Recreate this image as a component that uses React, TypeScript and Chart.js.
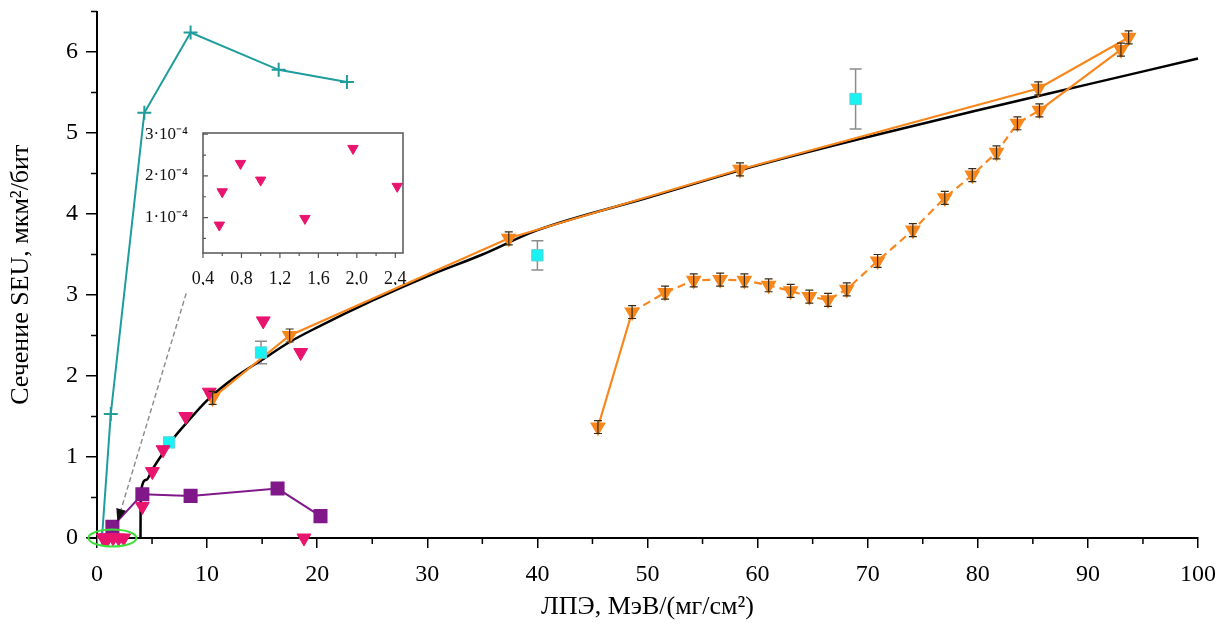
import React, { useEffect, useRef } from 'react';
import { Chart, registerables } from 'chart.js';

Chart.register(...registerables);

// ---------- data ----------
const fitX = [3.95, 3.97, 4.5, 5, 6, 7, 8, 10, 12.5, 15, 17.5, 20, 25, 30, 35, 40, 50, 60, 70, 80, 90, 100];
const fitY = [0, 0.55, 0.72, 0.84, 1.05, 1.24, 1.4, 1.7, 1.98, 2.2, 2.42, 2.6, 2.93, 3.23, 3.5, 3.8, 4.2, 4.6, 4.95, 5.28, 5.6, 5.92];

const tealX = [0.45, 1.25, 4.3, 8.5, 16.5, 22.7];
const tealY = [0, 1.53, 5.25, 6.24, 5.78, 5.63];

const purpleX = [1.4, 4.12, 8.5, 16.4, 20.3];
const purpleY = [0.14, 0.54, 0.52, 0.61, 0.27];

const pinkX = [0.57, 0.6, 0.79, 1.0, 1.46, 1.96, 2.42, 4.12, 5.03, 6.0, 8.06, 10.2, 15.1, 18.5, 18.8];
const pinkY = [0.0001, 0.00016, 0.00023, 0.00019, 0.0001, 0.00027, 0.00018, 0.39, 0.82, 1.09, 1.5, 1.8, 2.68, 2.29, 0];

const cyanX = [6.55, 14.9, 40.0, 68.9];
const cyanY = [1.18, 2.29, 3.49, 5.42];
const cyanErr = [0, 0.14, 0.18, 0.37];

const orangeAX = [10.5, 17.5, 37.4, 58.4, 85.5, 93.7];
const orangeAY = [1.73, 2.5, 3.7, 4.55, 5.55, 6.18];
const orangeAErr = [0.08, 0.08, 0.08, 0.08, 0.08, 0.08];

const orangeBX = [45.5, 48.6, 51.6, 54.2, 56.6, 58.8, 61.0, 63.0, 64.7, 66.4, 68.1, 70.9, 74.1, 77.0, 79.5, 81.7, 83.6, 85.6, 93.0];
const orangeBY = [1.37, 2.79, 3.03, 3.18, 3.19, 3.18, 3.12, 3.05, 2.98, 2.94, 3.07, 3.42, 3.8, 4.2, 4.48, 4.76, 5.12, 5.28, 6.03];
const orangeBErr = [0.08, 0.08, 0.08, 0.08, 0.08, 0.08, 0.08, 0.08, 0.08, 0.08, 0.08, 0.08, 0.08, 0.08, 0.08, 0.08, 0.08, 0.08, 0.08];

const insetX = [0.57, 0.6, 0.79, 1.0, 1.46, 1.96, 2.42];
const insetY = [0.82e-4, 1.62e-4, 2.3e-4, 1.9e-4, 0.98e-4, 2.66e-4, 1.75e-4];

const xTicks = [0, 10, 20, 30, 40, 50, 60, 70, 80, 90, 100];
const xMinor = [5, 15, 25, 35, 45, 55, 65, 75, 85, 95];
const yTicks = [0, 1, 2, 3, 4, 5, 6];
const yMinor = [0.5, 1.5, 2.5, 3.5, 4.5, 5.5, 6.5];
const insetXTicks = [0.4, 0.8, 1.2, 1.6, 2.0, 2.4];
const insetXMinor = [0.6, 1.0, 1.4, 1.8, 2.2];
const insetYTicks = [1e-4, 2e-4, 3e-4];
const insetYMinor = [0.5e-4, 1.5e-4, 2.5e-4];

// annotation anchors (data coords)
const arrowFrom = { x: 8.1, y: 3.02 };
const arrowTo = { x: 1.85, y: 0.2 };
const ellipseCenter = { x: 1.4, y: 0.0 };

const xTitle = 'ЛПЭ, МэВ/(мг/см²)';
const yTitle = 'Сечение SEU, мкм²/бит';

// ---------- styles ----------
const FONT = "'Liberation Serif', 'Times New Roman', serif";
const TEAL = '#1f9c9c';
const PURPLE = '#80188a';
const PINK = '#e8146e';
const CYAN = '#19f2f2';
const ORANGE = '#f7871c';

Chart.defaults.font.family = FONT;
Chart.defaults.color = '#000';

const pts = (xs: number[], ys: number[]) => xs.map((x, i) => ({ x, y: ys[i] }));

const drawErr = (chart: any, under: boolean) => {
  const ctx = chart.ctx;
  const xs = chart.scales.x;
  const ys = chart.scales.y;
  chart.data.datasets.forEach((ds: any) => {
    const eb = ds.errBars;
    if (!eb || eb.under !== under) return;
    ds.data.forEach((p: any, i: number) => {
      const e = eb.vals[i];
      if (!e) return;
      const px = xs.getPixelForValue(p.x);
      const top = ys.getPixelForValue(p.y + e);
      const bot = ys.getPixelForValue(p.y - e);
      ctx.save();
      ctx.strokeStyle = eb.color;
      ctx.lineWidth = eb.width;
      ctx.beginPath();
      ctx.moveTo(px, top);
      ctx.lineTo(px, bot);
      ctx.moveTo(px - eb.cap, top);
      ctx.lineTo(px + eb.cap, top);
      ctx.moveTo(px - eb.cap, bot);
      ctx.lineTo(px + eb.cap, bot);
      ctx.stroke();
      ctx.restore();
    });
  });
};

const errorBarPlugin = {
  id: 'errbars',
  beforeDatasetsDraw(chart: any) {
    drawErr(chart, true);
  },
  afterDatasetsDraw(chart: any) {
    drawErr(chart, false);
  },
};

const mainDecorPlugin = {
  id: 'maindecor',
  afterDraw(chart: any) {
    const ctx = chart.ctx;
    const xs = chart.scales.x;
    const ys = chart.scales.y;
    const a = chart.chartArea;
    ctx.save();
    // minor ticks + small axis overhang
    ctx.strokeStyle = '#000';
    ctx.lineWidth = 1.5;
    ctx.beginPath();
    xMinor.forEach((v) => {
      const px = xs.getPixelForValue(v);
      ctx.moveTo(px, a.bottom);
      ctx.lineTo(px, a.bottom + 6);
    });
    yMinor.forEach((v) => {
      const py = ys.getPixelForValue(v);
      ctx.moveTo(a.left, py);
      ctx.lineTo(a.left - 6, py);
    });
    ctx.stroke();
    ctx.lineWidth = 2;
    ctx.beginPath();
    ctx.moveTo(a.left - 10, a.bottom);
    ctx.lineTo(a.left, a.bottom);
    ctx.stroke();

    // dashed arrow
    const x0 = xs.getPixelForValue(arrowFrom.x);
    const y0 = ys.getPixelForValue(arrowFrom.y);
    const x1 = xs.getPixelForValue(arrowTo.x);
    const y1 = ys.getPixelForValue(arrowTo.y);
    const ang = Math.atan2(y1 - y0, x1 - x0);
    const hl = 13;
    const hw = 5;
    ctx.strokeStyle = '#8a8a8a';
    ctx.lineWidth = 1.4;
    ctx.setLineDash([5, 3]);
    ctx.beginPath();
    ctx.moveTo(x0, y0);
    ctx.lineTo(x1 - hl * Math.cos(ang), y1 - hl * Math.sin(ang));
    ctx.stroke();
    ctx.setLineDash([]);
    ctx.fillStyle = '#111';
    ctx.beginPath();
    ctx.moveTo(x1, y1);
    ctx.lineTo(x1 - hl * Math.cos(ang) + hw * Math.sin(ang), y1 - hl * Math.sin(ang) - hw * Math.cos(ang));
    ctx.lineTo(x1 - hl * Math.cos(ang) - hw * Math.sin(ang), y1 - hl * Math.sin(ang) + hw * Math.cos(ang));
    ctx.closePath();
    ctx.fill();

    // green ellipse
    const cx = xs.getPixelForValue(ellipseCenter.x);
    const cy = ys.getPixelForValue(ellipseCenter.y);
    ctx.strokeStyle = '#3ee03e';
    ctx.lineWidth = 2;
    ctx.beginPath();
    ctx.ellipse(cx, cy, 24, 8.5, 0, 0, Math.PI * 2);
    ctx.stroke();
    ctx.restore();
  },
};

const insetDecorPlugin = {
  id: 'insetdecor',
  afterDraw(chart: any) {
    const ctx = chart.ctx;
    const a = chart.chartArea;
    const xs = chart.scales.x;
    const ys = chart.scales.y;
    ctx.save();
    ctx.strokeStyle = '#555';
    ctx.lineWidth = 1.5;
    ctx.strokeRect(a.left, a.top, a.right - a.left, a.bottom - a.top);
    ctx.lineWidth = 1.2;
    ctx.beginPath();
    insetXTicks.forEach((v) => {
      const px = xs.getPixelForValue(v);
      ctx.moveTo(px, a.bottom);
      ctx.lineTo(px, a.bottom + 5);
    });
    insetXMinor.forEach((v) => {
      const px = xs.getPixelForValue(v);
      ctx.moveTo(px, a.bottom);
      ctx.lineTo(px, a.bottom + 3);
    });
    insetYTicks.forEach((v) => {
      const py = ys.getPixelForValue(v);
      ctx.moveTo(a.left, py);
      ctx.lineTo(a.left + 5, py);
    });
    insetYMinor.forEach((v) => {
      const py = ys.getPixelForValue(v);
      ctx.moveTo(a.left, py);
      ctx.lineTo(a.left + 3, py);
    });
    ctx.stroke();
    ctx.restore();
  },
};

export default function App() {
  const mainRef = useRef<HTMLCanvasElement | null>(null);
  const insetRef = useRef<HTMLCanvasElement | null>(null);

  useEffect(() => {
    const nB = orangeBX.length;
    const main = new Chart(mainRef.current as HTMLCanvasElement, {
      type: 'scatter',
      data: {
        datasets: [
          {
            data: pts(pinkX, pinkY),
            pointStyle: 'triangle',
            rotation: 180,
            radius: 8,
            backgroundColor: PINK,
            borderColor: PINK,
            borderWidth: 1,
            showLine: false,
            clip: false,
            order: 0,
          } as any,
          {
            data: pts(cyanX, cyanY),
            pointStyle: 'rect',
            radius: 8,
            backgroundColor: CYAN,
            borderColor: '#5ccfd6',
            borderWidth: 1,
            showLine: false,
            clip: false,
            order: 1,
            errBars: { vals: cyanErr, color: '#8c8c8c', width: 1.5, cap: 6, under: true },
          } as any,
          {
            data: pts(purpleX, purpleY),
            pointStyle: 'rect',
            radius: 8.5,
            backgroundColor: PURPLE,
            borderColor: PURPLE,
            showLine: true,
            borderWidth: 2,
            clip: false,
            order: 2,
          } as any,
          {
            data: pts(tealX, tealY),
            pointStyle: 'cross',
            radius: 7,
            backgroundColor: TEAL,
            borderColor: TEAL,
            borderWidth: 2,
            showLine: true,
            clip: false,
            order: 3,
          } as any,
          {
            data: pts(orangeAX, orangeAY),
            pointStyle: 'triangle',
            rotation: 180,
            radius: 7,
            backgroundColor: ORANGE,
            borderColor: ORANGE,
            borderWidth: 2.2,
            showLine: true,
            clip: false,
            order: 4,
            errBars: { vals: orangeAErr, color: '#3a2a14', width: 1.2, cap: 4, under: false },
          } as any,
          {
            data: pts(orangeBX, orangeBY),
            pointStyle: 'triangle',
            rotation: 180,
            radius: 7,
            backgroundColor: ORANGE,
            borderColor: ORANGE,
            borderWidth: 2.2,
            showLine: true,
            clip: false,
            order: 5,
            segment: {
              borderDash: (c: any) => (c.p0DataIndex >= 1 && c.p0DataIndex < nB - 2 ? [8, 5] : []),
            },
            errBars: { vals: orangeBErr, color: '#3a2a14', width: 1.2, cap: 4, under: false },
          } as any,
          {
            data: pts(fitX, fitY),
            showLine: true,
            pointRadius: 0,
            borderColor: '#000',
            borderWidth: 2.5,
            cubicInterpolationMode: 'monotone',
            clip: false,
            order: 6,
          } as any,
        ],
      },
      options: {
        animation: false,
        responsive: false,
        events: [],
        layout: { padding: { left: 0, top: 11.5, right: 28, bottom: 0 } },
        plugins: { legend: { display: false }, tooltip: { enabled: false } },
        scales: {
          x: {
            type: 'linear',
            min: 0,
            max: 100,
            afterBuildTicks: (s: any) => {
              s.ticks = xTicks.map((v) => ({ value: v }));
            },
            afterFit: (s: any) => {
              s.height = 97;
              s.paddingLeft = 0;
              s.paddingRight = 0;
            },
            ticks: { color: '#000', font: { family: FONT, size: 24 }, padding: 12, maxRotation: 0 },
            grid: { drawOnChartArea: false, drawTicks: true, tickLength: 10, color: '#000', lineWidth: 1.5 },
            border: { display: true, color: '#000', width: 2 },
            title: {
              display: true,
              text: xTitle,
              color: '#000',
              font: { family: FONT, size: 26 },
              padding: { top: 0, bottom: 12 },
            },
          },
          y: {
            type: 'linear',
            min: 0,
            max: 6.5,
            afterBuildTicks: (s: any) => {
              s.ticks = yTicks.map((v) => ({ value: v }));
            },
            afterFit: (s: any) => {
              s.width = 97;
              s.paddingTop = 0;
              s.paddingBottom = 0;
            },
            ticks: { color: '#000', font: { family: FONT, size: 24 }, padding: 8 },
            grid: { drawOnChartArea: false, drawTicks: true, tickLength: 11, color: '#000', lineWidth: 1.5 },
            border: { display: true, color: '#000', width: 2 },
            title: {
              display: true,
              text: yTitle,
              color: '#000',
              font: { family: FONT, size: 26 },
              padding: { top: 6, bottom: 0 },
            },
          },
        },
      } as any,
      plugins: [errorBarPlugin as any, mainDecorPlugin as any],
    });

    const inset = new Chart(insetRef.current as HTMLCanvasElement, {
      type: 'scatter',
      data: {
        datasets: [
          {
            data: pts(insetX, insetY),
            pointStyle: 'triangle',
            rotation: 180,
            radius: 6,
            backgroundColor: PINK,
            borderColor: PINK,
            borderWidth: 1,
            clip: false,
          } as any,
        ],
      },
      options: {
        animation: false,
        responsive: false,
        events: [],
        layout: { padding: { left: 0, top: 8, right: 12, bottom: 0 } },
        plugins: { legend: { display: false }, tooltip: { enabled: false } },
        scales: {
          x: {
            type: 'linear',
            min: 0.4,
            max: 2.48,
            afterBuildTicks: (s: any) => {
              s.ticks = insetXTicks.map((v) => ({ value: v }));
            },
            afterFit: (s: any) => {
              s.height = 32;
              s.paddingLeft = 0;
              s.paddingRight = 0;
            },
            ticks: {
              color: '#111',
              font: { family: FONT, size: 18 },
              padding: 7,
              maxRotation: 0,
              callback: (v: any) => Number(v).toFixed(1).replace('.', ','),
            },
            grid: { display: false },
            border: { display: false },
          },
          y: {
            type: 'linear',
            min: 0.15e-4,
            max: 3.03e-4,
            afterBuildTicks: (s: any) => {
              s.ticks = insetYTicks.map((v) => ({ value: v }));
            },
            afterFit: (s: any) => {
              s.width = 63;
              s.paddingTop = 0;
              s.paddingBottom = 0;
            },
            ticks: {
              color: '#111',
              font: { family: FONT, size: 17 },
              padding: 7,
              callback: (v: any) => Math.round(Number(v) * 1e4) + '·10⁻⁴',
            },
            grid: { display: false },
            border: { display: false },
          },
        },
      } as any,
      plugins: [insetDecorPlugin as any],
    });

    return () => {
      main.destroy();
      inset.destroy();
    };
  }, []);

  return (
    <div style={{ position: 'absolute', left: 0, top: 0, width: 1226, height: 635, background: '#fff' }}>
      <canvas ref={mainRef} width={1226} height={635} style={{ position: 'absolute', left: 0, top: 0 }} />
      <canvas ref={insetRef} width={275} height={160} style={{ position: 'absolute', left: 140, top: 125 }} />
    </div>
  );
}
